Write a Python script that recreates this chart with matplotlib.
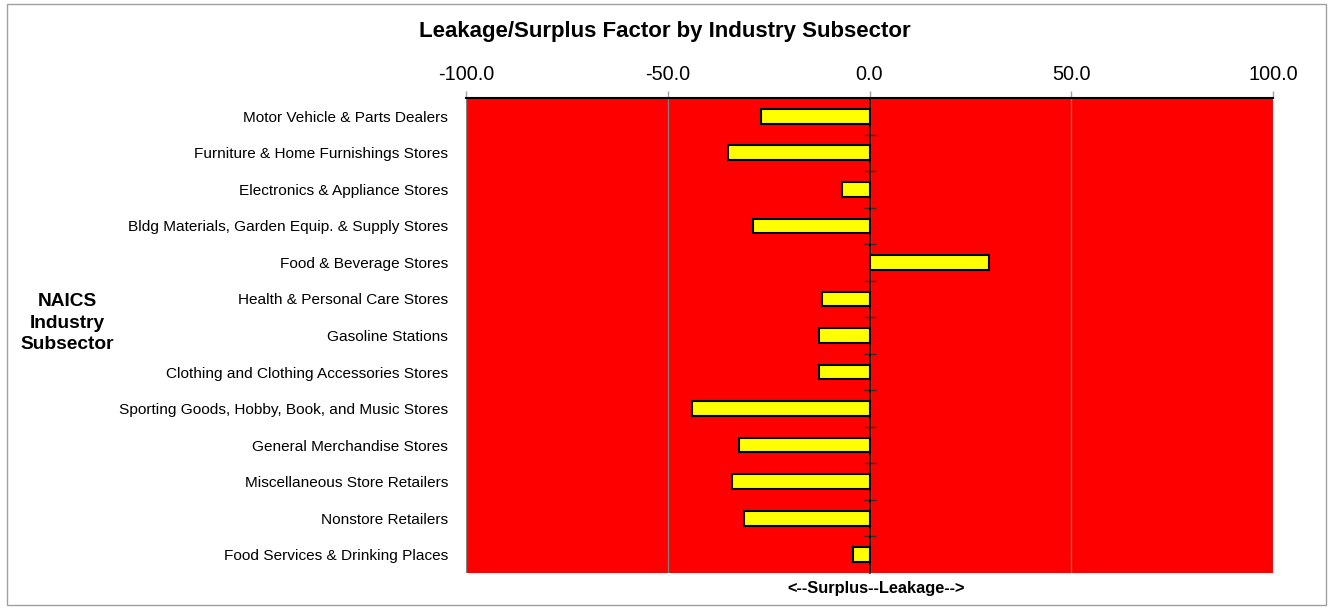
import numpy as np
import matplotlib
matplotlib.use("Agg")
import matplotlib.pyplot as plt
from matplotlib.patches import Rectangle

plt.rcParams['font.family'] = ['Liberation Sans', 'DejaVu Sans']

# Subsectors, top to bottom, and their leakage/surplus factor
subsectors = [
    "Motor Vehicle & Parts Dealers",
    "Furniture & Home Furnishings Stores",
    "Electronics & Appliance Stores",
    "Bldg Materials, Garden Equip. & Supply Stores",
    "Food & Beverage Stores",
    "Health & Personal Care Stores",
    "Gasoline Stations",
    "Clothing and Clothing Accessories Stores",
    "Sporting Goods, Hobby, Book, and Music Stores",
    "General Merchandise Stores",
    "Miscellaneous Store Retailers",
    "Nonstore Retailers",
    "Food Services & Drinking Places",
]
factor = [-27.0, -35.0, -6.8, -28.9, 29.7, -11.8, -12.6, -12.5, -44.0, -32.3, -34.0, -31.1, -4.1]
x_ticks = [-100, -50, 0, 50, 100]

fig = plt.figure(figsize=(13.3, 6.09), dpi=100)
ax = fig.add_axes([466 / 1330, 1 - 573 / 609, 807 / 1330, 475 / 609])

ypos = np.arange(len(subsectors))
ax.barh(ypos, factor, height=0.4, color="#FFFF00", edgecolor="black", linewidth=1.5, zorder=2)

ax.set_facecolor("#FF0000")
ax.set_xlim(-100, 100)
ax.set_ylim(len(subsectors) - 0.5, -0.5)

# value axis on top
ax.xaxis.tick_top()
ax.set_xticks(x_ticks)
ax.set_xticklabels([f"{v:.1f}" for v in x_ticks])
ax.tick_params(axis="x", which="major", color="#a0a0a0", length=5, width=1, pad=5, labelsize=14.3)
ax.grid(axis="x", color="#808080", linewidth=0.9)
ax.set_axisbelow(True)

# category labels on the left, the category axis itself crosses at zero
ax.set_yticks(ypos)
ax.set_yticklabels(subsectors)
ax.set_yticks(ypos[:-1] + 0.5, minor=True)
ax.tick_params(axis="y", which="major", left=True, right=False, length=0, pad=13, labelsize=11.1)
ax.tick_params(axis="y", which="minor", left=False, right=True, direction="inout",
               length=9, width=1, color="#303030")
ax.spines["right"].set_position(("data", 0))
ax.spines["right"].set_color("black")
ax.spines["right"].set_linewidth(1.2)
ax.spines["left"].set_visible(False)
ax.spines["bottom"].set_visible(False)
ax.spines["top"].set_color("black")
ax.spines["top"].set_linewidth(1.5)

fig.text(0.5, 1 - 32 / 609, "Leakage/Surplus Factor by Industry Subsector",
         ha="center", va="center", fontsize=16, fontweight="bold")
fig.text(67 / 1330, 1 - 323 / 609, "NAICS\nIndustry\nSubsector",
         ha="center", va="center", fontsize=13.8, fontweight="bold", linespacing=1.35)
fig.text(876 / 1330, 1 - 589 / 609, "<--Surplus--Leakage-->",
         ha="center", va="center", fontsize=11.8, fontweight="bold")

fig.patches.append(Rectangle((7 / 1330, 4 / 609), 1319 / 1330, 601 / 609,
                             transform=fig.transFigure, fill=False,
                             edgecolor="#a0a0a0", linewidth=1))

fig.savefig("out.png", dpi=100)
